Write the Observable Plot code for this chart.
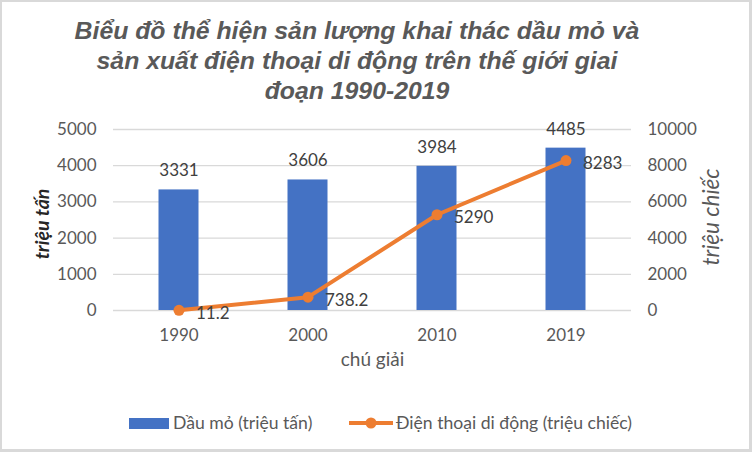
<!DOCTYPE html>
<html>
<head>
<meta charset="utf-8">
<script src="https://cdn.jsdelivr.net/npm/d3@7"></script>
<script src="https://cdn.jsdelivr.net/npm/@observablehq/plot@0.6"></script>
<style>
  html, body { margin: 0; padding: 0; background: #fff; }
  #wrap { position: relative; width: 752px; height: 452px; overflow: hidden; background: #fff; }
  #wrap svg { position: absolute; left: 0; top: 0; }
  #title { position: absolute; top: 16px; left: 0; width: 714px; text-align: center;
    font: italic bold 24.8px "Liberation Sans", Arial, sans-serif; line-height: 30px; color: #595959; }
  .leg { position: absolute; font: 17.6px Lato, sans-serif; color: #595959; line-height: 20px; white-space: nowrap; }
  #frame { position: absolute; left: 0; top: 0; width: 752px; height: 452px; box-sizing: border-box;
    border: 2px solid #d9d9d9; border-right-width: 3px; border-bottom-width: 3px; pointer-events: none; }
</style>
</head>
<body>
<div id="wrap"></div>
<script>
// ---- data ----
const years = ["1990", "2000", "2010", "2019"];
const oil = [3331, 3606, 3984, 4485];            // triệu tấn
const phones = [11.2, 738.2, 5290, 8283];        // triệu chiếc
const phoneLabels = ["11.2", "738.2", "5290", "8283"];
const leftTicks = [0, 1000, 2000, 3000, 4000, 5000];
const rightTicks = [0, 2000, 4000, 6000, 8000, 10000];
const leftMax = 5000, rightMax = 10000;
const seriesNames = ["Dầu mỏ (triệu tấn)", "Điện thoại di động (triệu chiếc)"];
const titleLines = ["Biểu đồ thể hiện sản lượng khai thác dầu mỏ và", "sản xuất điện thoại di động trên thế giới giai", "đoạn 1990-2019"];
const leftTitle = "triệu tấn", rightTitle = "triệu chiếc", xTitle = "chú giải";

const ratio = leftMax / rightMax;
const data = years.map((y, i) => ({year: y, oil: oil[i], phone: phones[i], phoneLabel: phoneLabels[i]}));

const blue = "#4472C4", orange = "#ED7D31";

const chart = Plot.plot({
  width: 752, height: 452,
  marginTop: 129, marginBottom: 142, marginLeft: 113, marginRight: 121,
  x: {domain: years, padding: 0, axis: null},
  y: {domain: [0, leftMax], axis: null},
  style: {fontFamily: "Lato, sans-serif", fontSize: "17px", color: "#595959", background: "transparent", overflow: "visible"},
  marks: [
    Plot.ruleY(leftTicks, {stroke: "#d9d9d9", strokeWidth: 1.3}),
    Plot.barY(data, {x: "year", y: "oil", fill: blue, insetLeft: 44.5, insetRight: 44.5}),
    Plot.text(data, {x: "year", y: "oil", text: d => String(d.oil), dy: -19, fill: "#404040", fontSize: 17}),
    Plot.line(data, {x: "year", y: d => d.phone * ratio, stroke: orange, strokeWidth: 4}),
    Plot.dot(data, {x: "year", y: d => d.phone * ratio, r: 5.5, fill: orange, stroke: "none"}),
    Plot.text(data, {x: "year", y: d => d.phone * ratio, text: "phoneLabel", textAnchor: "start", dx: 17, dy: 3, fill: "#404040", fontSize: 17}),
    Plot.axisX({tickSize: 0, tickPadding: 18, label: null, fill: "#595959", fontSize: 17}),
    Plot.axisY({anchor: "left", ticks: leftTicks, tickFormat: d => String(d), tickSize: 0, tickPadding: 17, label: null, fill: "#595959", fontSize: 17}),
    Plot.axisY({anchor: "right", ticks: rightTicks.map(v => v * ratio), tickFormat: d => String(Math.round(d / ratio)), tickSize: 0, tickPadding: 16, label: null, fill: "#595959", fontSize: 17}),
    Plot.text([leftTitle], {frameAnchor: "left", textAnchor: "middle", dx: -71, dy: 4, rotate: -90, fontWeight: "bold", fontStyle: "italic", fontSize: 19.5, fill: "#262626"}),
    Plot.text([rightTitle], {frameAnchor: "right", textAnchor: "middle", dx: 80, dy: -3, rotate: -90, fontStyle: "italic", fontSize: 22.5, fill: "#595959"}),
    Plot.text([xTitle], {frameAnchor: "bottom", dy: 55, fontSize: 19, fill: "#595959"})
  ]
});

const wrap = document.getElementById("wrap");
wrap.appendChild(chart);

const title = document.createElement("div");
title.id = "title";
title.innerHTML = titleLines.join("<br>");
wrap.appendChild(title);

// legend
const sw1 = document.createElement("div");
sw1.style.cssText = `position:absolute;left:129px;top:418px;width:40px;height:11px;background:${blue}`;
wrap.appendChild(sw1);
const t1 = document.createElement("div");
t1.className = "leg"; t1.style.left = "173px"; t1.style.top = "413px"; t1.textContent = seriesNames[0];
wrap.appendChild(t1);
const sw2 = document.createElementNS("http://www.w3.org/2000/svg", "svg");
sw2.setAttribute("width", 46); sw2.setAttribute("height", 14);
sw2.style.cssText = "position:absolute;left:348px;top:416px;";
sw2.innerHTML = `<line x1="1" y1="7" x2="45" y2="7" stroke="${orange}" stroke-width="4"/><circle cx="23" cy="7" r="5.5" fill="${orange}"/>`;
wrap.appendChild(sw2);
const t2 = document.createElement("div");
t2.className = "leg"; t2.style.left = "396px"; t2.style.top = "413px"; t2.textContent = seriesNames[1];
wrap.appendChild(t2);

const frame = document.createElement("div");
frame.id = "frame";
wrap.appendChild(frame);
</script>
</body>
</html>
